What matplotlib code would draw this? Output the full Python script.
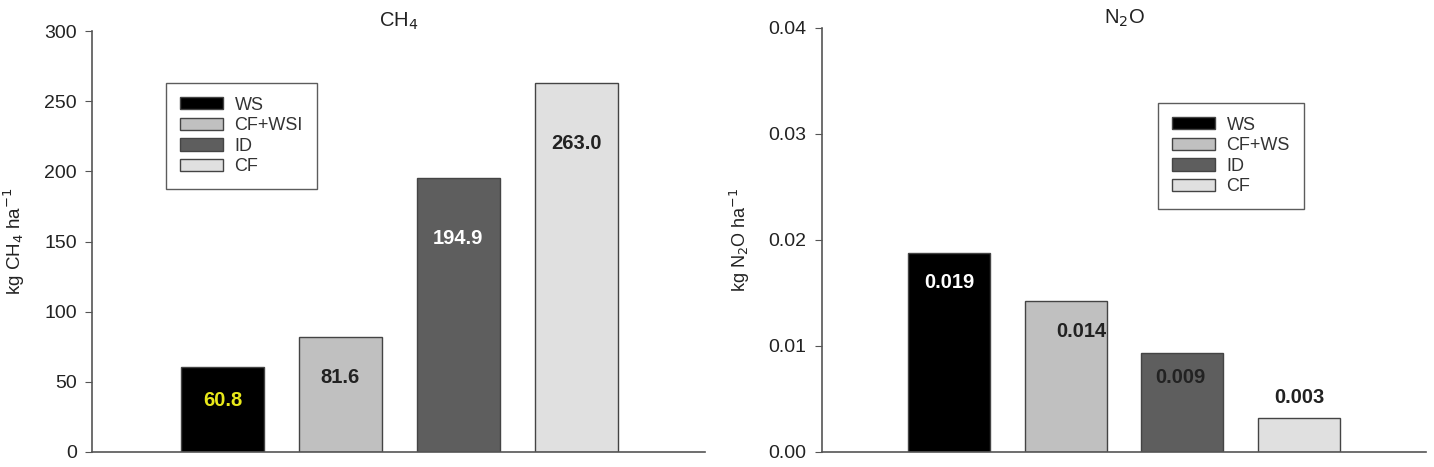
import matplotlib
matplotlib.use("Agg")
import matplotlib.pyplot as plt
from matplotlib.patches import Patch

plt.rcParams['font.family'] = ['Liberation Sans', 'DejaVu Sans']

# Data
ch4_labels = ["WS", "CF+WSI", "ID", "CF"]
ch4_values = [60.8, 81.6, 194.9, 263.0]
ch4_text = ["60.8", "81.6", "194.9", "263.0"]
ch4_text_y = [37, 53, 152, 220]

n2o_labels = ["WS", "CF+WS", "ID", "CF"]
n2o_values = [0.0188, 0.0142, 0.0093, 0.0032]
n2o_text = ["0.019", "0.014", "0.009", "0.003"]
n2o_text_y = [0.0160, 0.0114, 0.0070, 0.0051]
n2o_text_dx = [0.0, 0.13, -0.02, 0.0]

colors = ["#000000", "#c0c0c0", "#5e5e5e", "#e0e0e0"]
ch4_text_colors = ["#e8e81a", "#222222", "#ffffff", "#222222"]
n2o_text_colors = ["#ffffff", "#222222", "#222222", "#222222"]

W, H = 1434, 467
fig = plt.figure(figsize=(W / 100, H / 100), dpi=100)

TICK_FS = 14
VAL_FS = 14.5
LEG_FS = 13

def setup(ax):
    for s in ["top", "right"]:
        ax.spines[s].set_visible(False)
    for s in ["left", "bottom"]:
        ax.spines[s].set_color("#555555")
        ax.spines[s].set_linewidth(1.2)
    ax.tick_params(axis="y", direction="out", length=5, color="#555555",
                   labelsize=TICK_FS, labelcolor="#222222", pad=6)
    ax.set_xticks([])

def legend(ax, handles, x0, y0):
    leg = ax.legend(handles=handles, loc="upper left", bbox_to_anchor=(x0, y0),
                    fontsize=LEG_FS, frameon=True, fancybox=False, edgecolor="#333333",
                    handlelength=2.4, handleheight=0.68, labelspacing=0.2, borderpad=0.75,
                    handletextpad=0.65, borderaxespad=0)
    leg.get_frame().set_linewidth(1.0)
    for t in leg.get_texts():
        t.set_color("#333333")
    return leg

# Left axes (CH4)
ax1 = fig.add_axes([92 / W, 1 - 452 / H, (705 - 92) / W, (452 - 31) / H])
x = range(len(ch4_values))
ax1.bar(x, ch4_values, width=0.70, color=colors, edgecolor="#444444", linewidth=1.0)
ax1.set_xlim(-1.106, 4.09)
ax1.set_ylim(0, 300)
ax1.set_yticks([0, 50, 100, 150, 200, 250, 300])
setup(ax1)
for i, (t, ty, c) in enumerate(zip(ch4_text, ch4_text_y, ch4_text_colors)):
    ax1.text(i, ty, t, ha="center", va="center", fontsize=VAL_FS, fontweight="bold", color=c)
ax1.text(0.5, 1.024, "CH$_4$", transform=ax1.transAxes, ha="center", va="center",
         fontsize=14.5, color="#222222")
ax1.set_ylabel("kg CH$_4$ ha$^{-1}$", fontsize=13.5, color="#222222", labelpad=12)
h1 = [Patch(facecolor=c, edgecolor="#444444", label=l) for c, l in zip(colors, ch4_labels)]
legend(ax1, h1, (166 - 92) / 613, 1 - (83 - 31) / 421)

# Right axes (N2O)
ax2 = fig.add_axes([822 / W, 1 - 452 / H, (1426 - 822) / W, (452 - 28) / H])
ax2.bar(x, n2o_values, width=0.70, color=colors, edgecolor="#444444", linewidth=1.0)
ax2.set_xlim(-1.09, 4.09)
ax2.set_ylim(0, 0.04)
ax2.set_yticks([0.0, 0.01, 0.02, 0.03, 0.04])
ax2.set_yticklabels(["0.00", "0.01", "0.02", "0.03", "0.04"])
setup(ax2)
for i, (t, ty, dx, c) in enumerate(zip(n2o_text, n2o_text_y, n2o_text_dx, n2o_text_colors)):
    ax2.text(i + dx, ty, t, ha="center", va="center", fontsize=VAL_FS, fontweight="bold", color=c)
ax2.text(0.5, 1.022, "N$_2$O", transform=ax2.transAxes, ha="center", va="center",
         fontsize=14.5, color="#222222")
ax2.set_ylabel("kg N$_2$O ha$^{-1}$", fontsize=13, color="#222222", labelpad=12)
h2 = [Patch(facecolor=c, edgecolor="#444444", label=l) for c, l in zip(colors, n2o_labels)]
legend(ax2, h2, (1158 - 822) / 604, 1 - (103 - 28) / 424)

fig.savefig("out.png", dpi=100)
